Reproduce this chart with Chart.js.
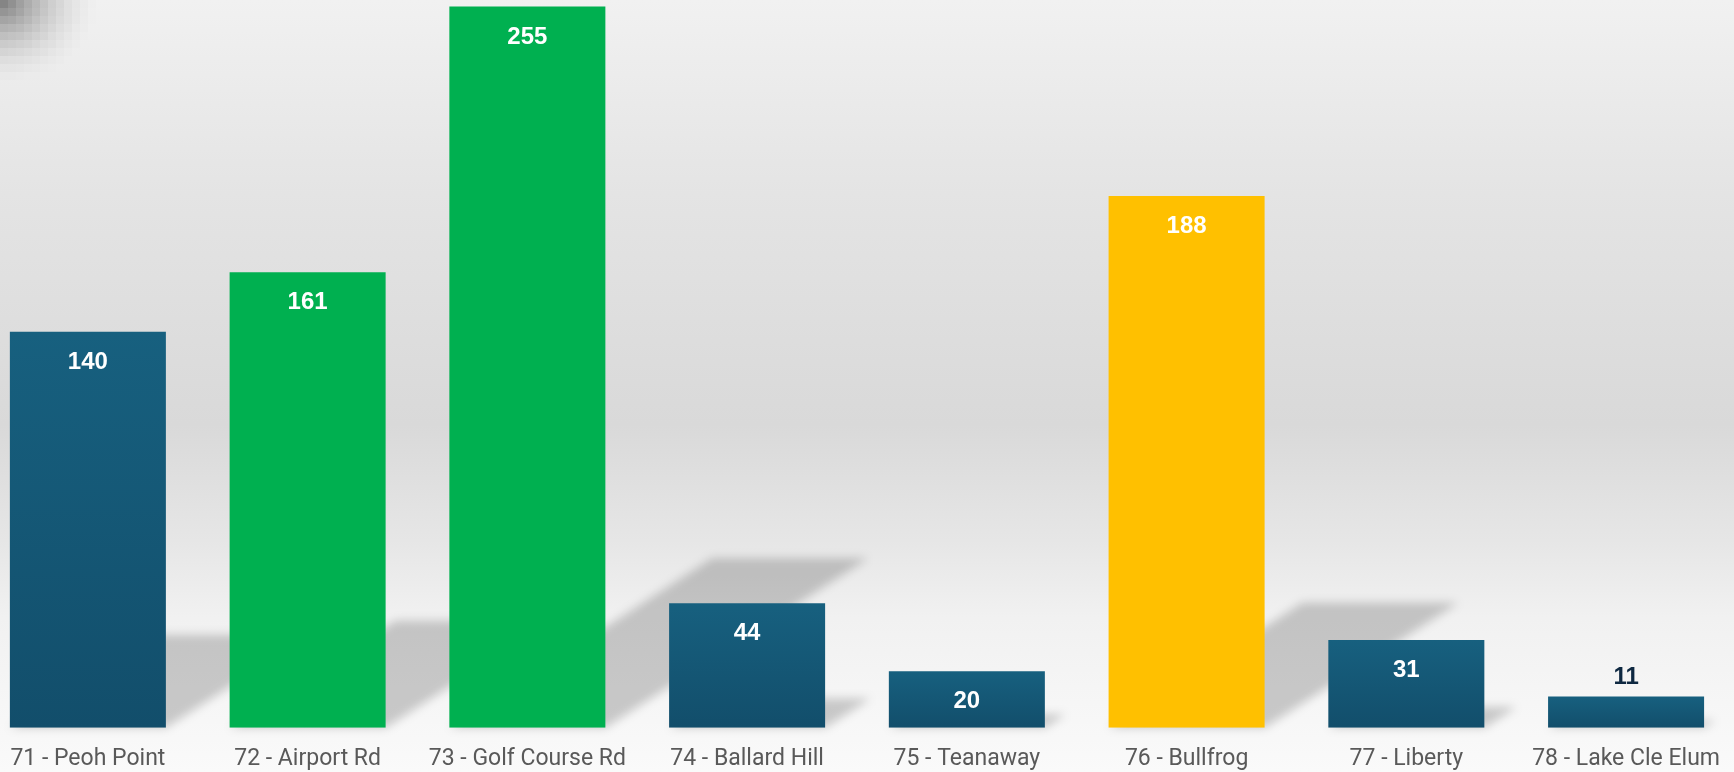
<!DOCTYPE html>
<html><head><meta charset="utf-8">
<script src="https://cdn.jsdelivr.net/npm/chart.js@4.4.1/dist/chart.umd.min.js"></script>
<style>
html,body{margin:0;padding:0;width:1734px;height:772px;overflow:hidden;background:#eeeeee;}
#wrap{position:absolute;left:-22px;top:0;width:1760px;height:772px;}
</style></head><body>
<div id="wrap"><canvas id="c"></canvas></div>
<script>
// ---- data ----
const categories = ['71 - Peoh Point','72 - Airport Rd','73 - Golf Course Rd','74 - Ballard Hill','75 - Teanaway','76 - Bullfrog','77 - Liberty','78 - Lake Cle Elum'];
const values = [140, 161, 255, 44, 20, 188, 31, 11];
const barGroup = ['base','highlight','highlight','base','base','accent','base','base'];

// ---- styles ----
const palette = { highlight: '#00B050', accent: '#FFC000', baseTop: '#17607F', baseBottom: '#124E6B' };

const bgPlugin = {
  id: 'bg',
  beforeDraw(chart) {
    const c = chart.ctx, W = chart.width, H = chart.height;
    c.save();
    const g = c.createLinearGradient(0, 0, 0, H);
    g.addColorStop(0, '#F1F1F1');
    g.addColorStop(0.25, '#E4E4E4');
    g.addColorStop(0.55, '#D9D9D9');
    g.addColorStop(0.70, '#E6E6E6');
    g.addColorStop(0.80, '#F1F1F1');
    g.addColorStop(1, '#FAFAFA');
    c.fillStyle = g;
    c.fillRect(0, 0, W, H);
    // pixelated corner blob (top-left of viewport)
    const ox = 22, bs = 8;
    for (let by = 0; by < 120; by += bs) {
      for (let bx = 0; bx < 130; bx += bs) {
        const d = Math.sqrt(Math.pow((bx + 4) / 100, 2) + Math.pow((by + 4) / 85, 2));
        const a = Math.max(0, 1 - d);
        if (a > 0) {
          c.fillStyle = 'rgba(0,0,0,' + (0.5 * Math.pow(a, 1.7)).toFixed(3) + ')';
          c.fillRect(ox + bx, by, bs, bs);
        }
      }
    }
    c.restore();
  }
};

const shadowPlugin = {
  id: 'shadows',
  beforeDatasetsDraw(chart) {
    const c = chart.ctx;
    const meta = chart.getDatasetMeta(0);
    c.save();
    c.filter = 'blur(5px)';
    c.fillStyle = 'rgba(0,0,0,0.19)';
    meta.data.forEach(el => {
      const h = el.base - el.y;
      const sh = h * 0.235;
      const dx = sh * 1.55;
      const l = el.x - el.width / 2, r = el.x + el.width / 2;
      c.beginPath();
      c.moveTo(l, el.base);
      c.lineTo(r, el.base);
      c.lineTo(r + dx, el.base - sh);
      c.lineTo(l + dx, el.base - sh);
      c.closePath();
      c.fill();
    });
    c.restore();
  }
};

const labelPlugin = {
  id: 'vlabels',
  afterDatasetsDraw(chart) {
    const c = chart.ctx;
    const meta = chart.getDatasetMeta(0);
    c.save();
    c.font = 'bold 24px "Liberation Sans", Arial, sans-serif';
    c.textAlign = 'center';
    c.textBaseline = 'middle';
    meta.data.forEach((el, i) => {
      const h = el.base - el.y;
      const txt = String(values[i]);
      if (h >= 45) {
        c.fillStyle = '#FFFFFF';
        c.fillText(txt, el.x, el.y + 30.5);
      } else {
        c.fillStyle = '#0E2841';
        c.fillText(txt, el.x, el.y - 19);
      }
    });
    c.restore();
  }
};

new Chart(document.getElementById('c'), {
  type: 'bar',
  data: {
    labels: categories,
    datasets: [{
      data: values,
      backgroundColor: (ctx) => {
        const g = barGroup[ctx.dataIndex];
        if (g !== 'base') return palette[g];
        const chart = ctx.chart, ys = chart.scales && chart.scales.y;
        if (!ys || !chart.chartArea) return palette.baseTop;
        const top = ys.getPixelForValue(values[ctx.dataIndex]);
        const bot = ys.getPixelForValue(0);
        const grd = chart.ctx.createLinearGradient(0, top, 0, bot);
        grd.addColorStop(0, palette.baseTop);
        grd.addColorStop(1, palette.baseBottom);
        return grd;
      },
      borderWidth: 0,
      categoryPercentage: 1,
      barPercentage: 0.71
    }]
  },
  options: {
    responsive: true,
    maintainAspectRatio: false,
    animation: false,
    devicePixelRatio: 1,
    layout: { padding: 0 },
    plugins: { legend: { display: false }, tooltip: { enabled: false }, title: { display: false } },
    scales: {
      x: {
        grid: { display: false, drawTicks: false },
        border: { display: false },
        ticks: { color: '#595959', font: { family: 'Roboto, "Noto Sans", sans-serif', size: 23 }, padding: 18, maxRotation: 0, autoSkip: false },
        afterFit: (s) => { s.height = 44.3; }
      },
      y: { display: false, min: 0, max: 257.3 }
    }
  },
  plugins: [bgPlugin, shadowPlugin, labelPlugin]
});
</script>
</body></html>
